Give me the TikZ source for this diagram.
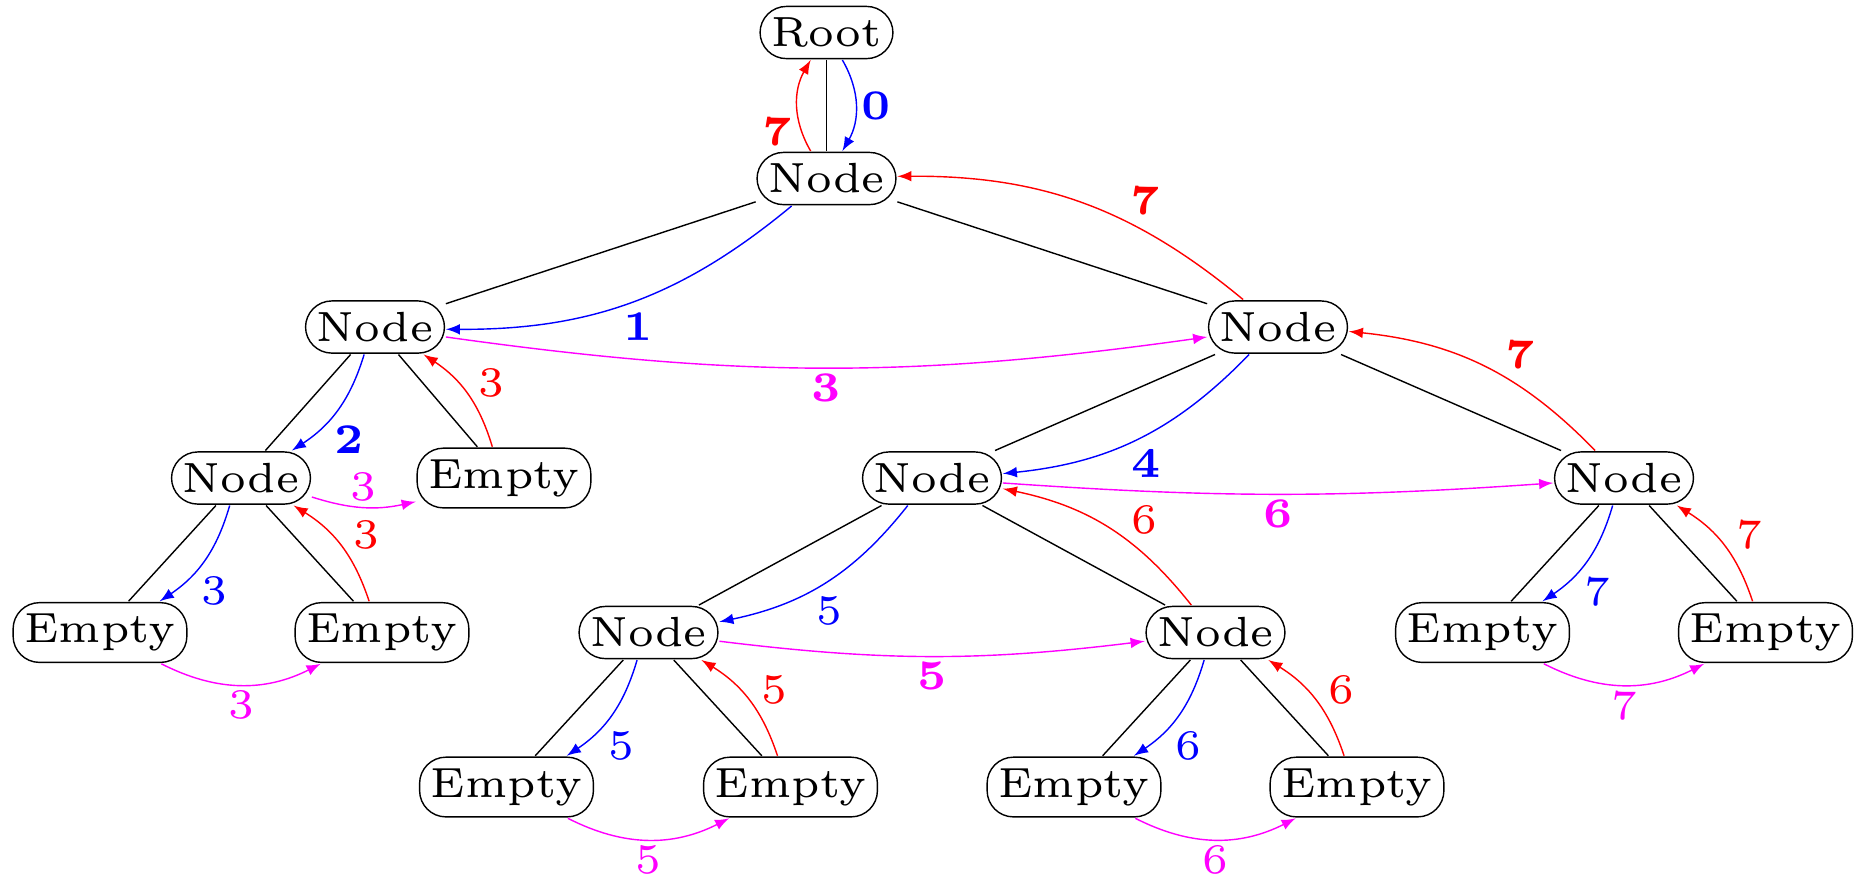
\documentclass[tikz,border=0pt]{standalone}
\usepackage{tikz}
\usetikzlibrary{positioning, arrows}
\definecolor{mag}{RGB}{255,0,255}
\tikzset{
	>=latex, % filled arrow heads
	on grid, % node distances are measured centre to centre
	box/.style={draw, rounded corners=7.5pt, inner sep=1.6pt, scale=2, font=\fontsize{6}{7}\selectfont}, % tree nodes
	num/.style={inner sep=0.6pt, scale=2, font=\fontsize{6}{7}\selectfont}, % step numbers on the threads
}

\begin{document}
\begin{tikzpicture}
	\useasboundingbox (0,0) rectangle (18.6,-8.79);

	\node[box] (root) at (8.265,-0.325) {Root};
	\node[box, below=1.46 of root] (n1) {Node};
	\node[box, below left=1.485 and 4.515 of n1] (l2a) {Node};
	\node[box, below right=1.485 and 4.515 of n1] (l2b) {Node};
	\node[box, below left=1.51 and 1.34 of l2a] (l3a) {Node};
	\node[box, below right=1.51 and 1.29 of l2a] (l3b) {Empty};
	\node[box, below left=1.51 and 3.46 of l2b] (l3c) {Node};
	\node[box, below right=1.51 and 3.46 of l2b] (l3d) {Node};
	\node[box, below left=1.545 and 1.41 of l3a] (l4a) {Empty};
	\node[box, below right=1.545 and 1.41 of l3a] (l4b) {Empty};
	\node[box, below left=1.545 and 2.835 of l3c] (l4c) {Node};
	\node[box, below right=1.545 and 2.835 of l3c] (l4d) {Node};
	\node[box, below left=1.545 and 1.415 of l3d] (l4e) {Empty};
	\node[box, below right=1.545 and 1.415 of l3d] (l4f) {Empty};
	\node[box, below left=1.545 and 1.42 of l4c] (l5a) {Empty};
	\node[box, below right=1.545 and 1.42 of l4c] (l5b) {Empty};
	\node[box, below left=1.545 and 1.415 of l4d] (l5c) {Empty};
	\node[box, below right=1.545 and 1.415 of l4d] (l5d) {Empty};

	% tree edges
	\foreach \p/\c in {root/n1, n1/l2a, n1/l2b, l2a/l3a, l2a/l3b, l2b/l3c, l2b/l3d,
		l3a/l4a, l3a/l4b, l3c/l4c, l3c/l4d, l3d/l4e, l3d/l4f, l4c/l5a, l4c/l5b, l4d/l5c, l4d/l5d}
		\draw (\p) -- (\c);

	% down to the left child
	\draw[->, blue] (root) to[bend left=30] node[num, auto] {\textbf{0}} (n1);
	\draw[->, blue] (n1) to[bend left=20] node[num, auto, pos=0.54] {\textbf{1}} (l2a);
	\draw[->, blue] (l2a) to[bend left=20] node[num, auto, pos=0.62] {\textbf{2}} (l3a);
	\draw[->, blue] (l2b) to[bend left=20] node[num, auto, pos=0.55] {\textbf{4}} (l3c);
	\draw[->, blue] (l3c) to[bend left=20] node[num, auto, pos=0.58] {5} (l4c);
	\foreach \p/\c/\k in {l3a/l4a/3, l4c/l5a/5, l4d/l5c/6, l3d/l4e/7}
		\draw[->, blue] (\p) to[bend left=20] node[num, auto, pos=0.62] {\k} (\c);

	% back up from the right child
	\draw[->, red] (n1) to[bend left=30] node[num, auto, pos=0.43] {\textbf{7}} (root);
	\draw[->, red] (l2b) to[bend right=20] node[num, auto, swap, pos=0.37] {\textbf{7}} (n1);
	\draw[->, red] (l3d) to[bend right=20] node[num, auto, swap, pos=0.43] {\textbf{7}} (l2b);
	\foreach \c/\p/\k in {l3b/l2a/3, l4b/l3a/3, l4d/l3c/6, l5b/l4c/5, l5d/l4d/6, l4f/l3d/7}
		\draw[->, red] (\c) to[bend right=20] node[num, auto, swap, pos=0.4] {\k} (\p);

	% across to the sibling
	\draw[->, mag] (l2a) to[bend right=8] node[num, auto, swap] {\textbf{3}} (l2b);
	\draw[->, mag] (l3c) to[bend right=4] node[num, auto, swap] {\textbf{6}} (l3d);
	\draw[->, mag] (l4c) to[bend right=7] node[num, auto, swap] {\textbf{5}} (l4d);
	\draw[->, mag] (l3a) to[bend right=15] node[num, auto] {3} (l3b);
	\foreach \a/\b/\k in {l4a/l4b/3, l5a/l5b/5, l5c/l5d/6, l4e/l4f/7}
		\draw[->, mag] (\a) to[bend right=27] node[num, auto, swap] {\k} (\b);
\end{tikzpicture}
\end{document}
